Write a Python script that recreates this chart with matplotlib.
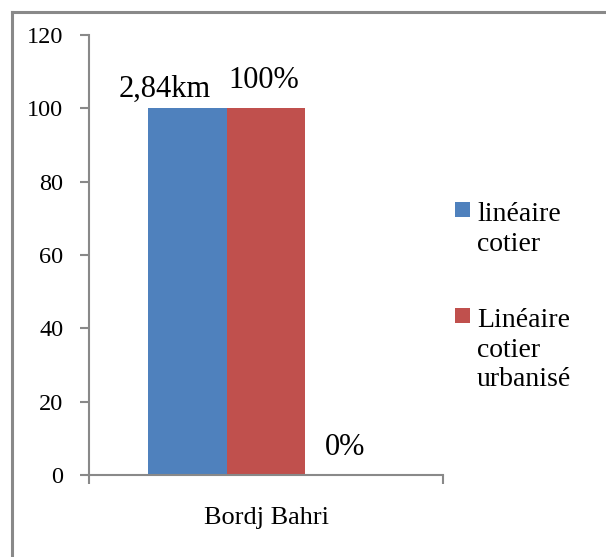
import numpy as np
import matplotlib.pyplot as plt
from matplotlib.lines import Line2D
from matplotlib.patches import Rectangle

category = 'Bordj Bahri'
# third series is zero (shown only by its "0%" label, not in the legend)
series_names = ['linéaire\ncotier', 'Linéaire\ncotier\nurbanisé', None]
series_values = [100, 100, 0]
series_colors = ['#4F81BD', '#C0504D', '#9BBB59']
bar_labels = ['2,84km', '100%', '0%']
yticks = [0, 20, 40, 60, 80, 100, 120]

plt.rcParams['font.family'] = ['Liberation Serif', 'DejaVu Serif']
grey = '#898989'

fig = plt.figure(figsize=(6.06, 5.57), dpi=100)
ax = fig.add_axes([89 / 606, 82 / 557, 354 / 606, 440 / 557])

width = 0.223
offsets = [-width, 0, width]
for off, val, col in zip(offsets, series_values, series_colors):
    ax.bar(off, val, width=width, color=col, linewidth=0)

# data labels (placed like in the original, not exactly over the bars)
label_pos = [(-0.285, 103.1), (-0.006, 105.5), (0.223, 5.4)]
for (lx, ly), txt in zip(label_pos, bar_labels):
    ax.text(lx, ly, txt, ha='center', va='baseline', fontsize=22)

ax.set_xlim(-0.5, 0.5)
ax.set_ylim(0, 120)
ax.set_yticks(yticks)
ax.set_xticks([0])
ax.set_xticklabels([category], fontsize=19)
ax.set_xticks([-0.5, 0.5], minor=True)
ax.tick_params(axis='x', which='major', length=0, pad=23)
ax.tick_params(axis='x', which='minor', length=6.5, width=1.5, color=grey, direction='out')
ax.tick_params(axis='y', length=6.5, width=1.5, color=grey, direction='out', labelsize=17.5, pad=12)
for s in ['top', 'right']:
    ax.spines[s].set_visible(False)
for s in ['left', 'bottom']:
    ax.spines[s].set_color(grey)
    ax.spines[s].set_linewidth(1.5)

# legend drawn by hand (only the first two series)
leg_top = [202, 308]
for name, col, top in zip(series_names[:2], series_colors[:2], leg_top):
    fig.patches.append(Rectangle((455 / 606, 1 - (top + 15) / 557), 15 / 606, 15 / 557,
                                 transform=fig.transFigure, color=col, linewidth=0))
    fig.text(477 / 606, 1 - top / 557, name, ha='left', va='top', fontsize=20, linespacing=1.25)

# outer frame (left and top only)
fig.add_artist(Line2D([11.5 / 606, 11.5 / 606], [0, 1 - 11.5 / 557], color=grey, lw=2.2,
                      transform=fig.transFigure))
fig.add_artist(Line2D([11.5 / 606, 1], [1 - 11.5 / 557, 1 - 11.5 / 557], color=grey, lw=2.2,
                      transform=fig.transFigure))

fig.savefig('out.png', dpi=100)
